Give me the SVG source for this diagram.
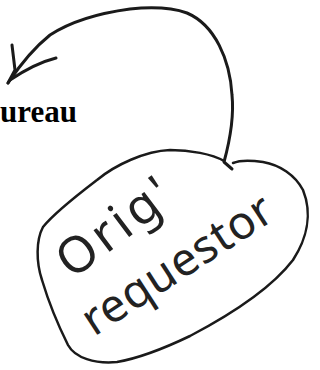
<svg xmlns="http://www.w3.org/2000/svg" width="320" height="370" viewBox="0 0 320 370">
<style>
.ink{fill:none;stroke:#1a1a1a;stroke-linecap:round;stroke-linejoin:round}
.hand{font-family:"Noto Sans","DejaVu Sans",sans-serif;fill:#222;font-weight:normal}
.lbl{font-family:"Liberation Serif","Times New Roman",serif;font-weight:bold;fill:#000}
</style>
<rect width="320" height="370" fill="#fff"/>
<g id="bureau">
<text class="lbl" x="0" y="122" font-size="31">ureau</text>
</g>
<g id="connectors">
<path class="ink" stroke-width="3" d="M232,169 L224,162 C230,140 234,115 232,95 C230,60 215,25 187,13 C170,7 150,7 130,9 C100,13 70,22 50,35 C35,47 20,65 8,83"/>
<path class="ink" stroke-width="3" d="M12,45 L15,70 L8,83 M10,80 C25,70 40,62 56,58"/>
</g>
<g id="orig-requestor">
<path class="ink" stroke-width="2.5" d="M224,161 C212,154 190,150 170,150 C145,151 115,165 97,180 C80,193 55,212 43,227 C36,240 36,262 42,280 C48,300 58,325 68,345 C75,358 95,364 117,362 C140,358 165,348 190,336 C230,315 270,290 293,260 C306,240 313,215 303,190 C295,175 280,165 263,162 C250,160 240,160 233,163"/>
<text class="hand" font-size="50" transform="translate(72,280) rotate(-37)" textLength="130" lengthAdjust="spacing">Orig'</text>
<text class="hand" font-size="46" transform="translate(94,337) rotate(-33)" textLength="218" lengthAdjust="spacing">requestor</text>
</g>
</svg>
